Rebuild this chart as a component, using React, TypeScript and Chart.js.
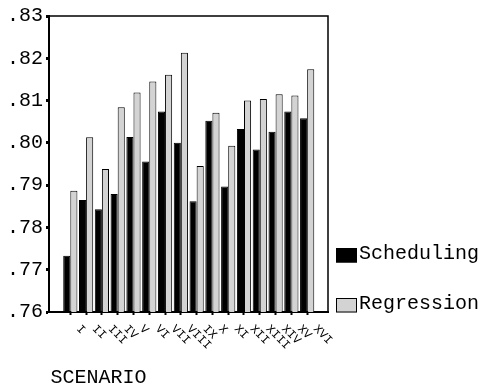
import React, { useEffect, useRef } from 'react';
import { Chart, registerables } from 'chart.js';

Chart.register(...registerables);

const CATEGORIES = ['I', 'II', 'III', 'IV', 'V', 'VI', 'VII', 'VIII', 'IX', 'X', 'XI', 'XII', 'XIII', 'XIV', 'XV', 'XVI'];
const SCHEDULING = [0.7733, 0.7865, 0.7843, 0.7879, 0.8014, 0.7956, 0.8074, 0.8000, 0.7862, 0.8052, 0.7897, 0.8033, 0.7984, 0.8026, 0.8074, 0.8058];
const REGRESSION = [0.7887, 0.8013, 0.7938, 0.8084, 0.8119, 0.8145, 0.8161, 0.8213, 0.7945, 0.8071, 0.7993, 0.8100, 0.8104, 0.8115, 0.8112, 0.8174];
const Y_TICKS = [0.76, 0.77, 0.78, 0.79, 0.80, 0.81, 0.82, 0.83];
const SERIES_NAMES = ['Scheduling', 'Regression'];
const X_TITLE = 'SCENARIO';

const FONT = '"Liberation Mono", "DejaVu Sans Mono", monospace';
const GRAY = '#d3d3d3';

export default function App() {
  const ref = useRef<HTMLCanvasElement>(null);

  useEffect(() => {
    const canvas = ref.current;
    if (!canvas) return;

    const customPlugin = {
      id: 'customDecor',
      afterDraw(chart: any) {
        const { ctx, chartArea: a, scales } = chart;
        const xs = scales.x;
        ctx.save();
        // top and right frame lines
        ctx.strokeStyle = '#000';
        ctx.lineWidth = 1.5;
        ctx.beginPath();
        ctx.moveTo(a.left, a.top);
        ctx.lineTo(a.right, a.top);
        ctx.lineTo(a.right, a.bottom);
        ctx.stroke();

        // rotated category labels
        ctx.fillStyle = '#000';
        ctx.font = `12px ${FONT}`;
        ctx.textAlign = 'left';
        ctx.textBaseline = 'middle';
        CATEGORIES.forEach((lab, i) => {
          const px = xs.getPixelForValue(i);
          ctx.save();
          ctx.translate(px + 8, a.bottom + 15);
          ctx.rotate(Math.PI / 4);
          ctx.fillText(lab, 0, 0);
          ctx.restore();
        });

        // legend
        ctx.font = `20px ${FONT}`;
        ctx.textBaseline = 'alphabetic';
        chart.data.datasets.forEach((ds: any, d: number) => {
          const top = a.bottom - 64 + d * 50;
          const bx = a.right + 8;
          ctx.fillStyle = ds.backgroundColor;
          ctx.fillRect(bx, top, 21, 14.5);
          ctx.strokeStyle = '#000';
          ctx.lineWidth = 1;
          ctx.strokeRect(bx + 0.5, top + 0.5, 20, 13.5);
          ctx.fillStyle = '#000';
          ctx.fillText(ds.label, bx + 23, top + 10.5);
        });

        // axis title
        ctx.fillText(X_TITLE, a.left + 1.5, 383);
        ctx.restore();
      },
    };

    const chart = new Chart(canvas, {
      type: 'bar',
      data: {
        datasets: [
          {
            label: SERIES_NAMES[0],
            data: SCHEDULING.map((v, i) => ({ x: i, y: v })),
            backgroundColor: '#000',
            borderColor: '#000',
            borderWidth: 1,
            categoryPercentage: 0.9,
            barPercentage: 1,
          },
          {
            label: SERIES_NAMES[1],
            data: REGRESSION.map((v, i) => ({ x: i, y: v })),
            backgroundColor: GRAY,
            borderColor: '#000',
            borderWidth: 1,
            categoryPercentage: 0.9,
            barPercentage: 1,
          },
        ],
      },
      options: {
        animation: false,
        responsive: true,
        maintainAspectRatio: false,
        layout: { padding: { left: 0, top: 16, right: 155, bottom: 0 } },
        plugins: {
          legend: { display: false },
          tooltip: { enabled: false },
        },
        scales: {
          x: {
            type: 'linear',
            min: -1.35,
            max: 16.32,
            offset: false,
            ticks: { display: false },
            grid: { offset: false, drawOnChartArea: false, drawTicks: true, tickLength: 3, tickWidth: 2, color: '#000' },
            border: { display: true, color: '#000', width: 2 },
            afterBuildTicks: (s: any) => {
              s.ticks = CATEGORIES.map((_, i) => ({ value: i }));
            },
            afterFit: (s: any) => {
              s.height = 74;
            },
          },
          y: {
            type: 'linear',
            min: 0.76,
            max: 0.83,
            afterBuildTicks: (s: any) => {
              s.ticks = Y_TICKS.map((v) => ({ value: v }));
            },
            ticks: {
              autoSkip: false,
              color: '#000',
              padding: 3,
              font: { family: FONT, size: 20 },
              callback: (v: any) => Number(v).toFixed(2).replace(/^0/, ''),
            },
            grid: { drawOnChartArea: false, drawTicks: true, tickLength: 3, tickWidth: 3, color: '#000' },
            border: { display: true, color: '#000', width: 2 },
            afterFit: (s: any) => {
              s.width = 49;
            },
          },
        },
      },
      plugins: [customPlugin],
    });

    return () => chart.destroy();
  }, []);

  return (
    <div style={{ position: 'absolute', left: 0, top: 0, width: 483, height: 386 }}>
      <canvas ref={ref} />
    </div>
  );
}
